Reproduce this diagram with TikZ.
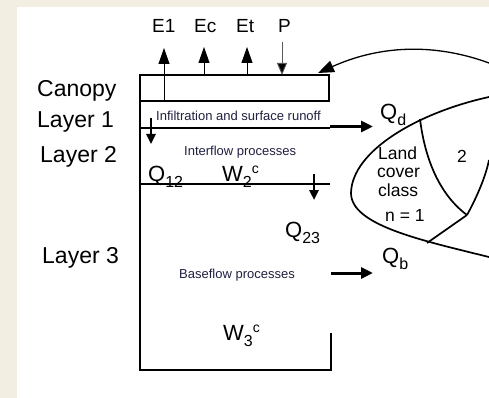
\documentclass[tikz,border=0pt]{standalone}
\usepackage{fontspec}
\setmainfont{Liberation Sans}
\usetikzlibrary{arrows.meta}
\definecolor{beige}{HTML}{F2EFE2}
\definecolor{smalltext}{HTML}{202040}
\newcommand\fs[1]{\fontsize{#1}{#1}\selectfont}
\newcommand\lsub[1]{\raisebox{-6pt}{\fs{16}#1}}
\newcommand\lsup[1]{\raisebox{8pt}{\fs{14}#1}}
\begin{document}
\begin{tikzpicture}[x=1pt,y=-1pt,
  lbl/.style={inner sep=0pt,anchor=base west},
  boxline/.style={line width=1.1pt,black},
  thinarrow/.style={line width=0.9pt,-{Triangle[length=16pt,width=11pt]}},
  thickarrow/.style={line width=3pt,-{Triangle[length=12pt,width=11pt]}},
  downarrow/.style={line width=2.4pt,-{Triangle[length=10pt,width=9pt]}},
  lens/.style={line width=1.7pt,black}]
\useasboundingbox (0,0) rectangle (489,398);
\fill[beige] (0,0) rectangle (489,398);
\fill[white] (17,7) rectangle (489,398);

% boxes
\draw[boxline] (140,75) rectangle (329,101);
\draw[boxline] (140,101) -- (140,370) -- (331,370) -- (331,333);
\draw[boxline] (140,128) -- (330,128);
\draw[boxline] (140,184) -- (330,184);

% coordinates
\coordinate (e1s) at (164,101); \coordinate (e1t) at (164,48);
\coordinate (ecs) at (204,75);  \coordinate (ect) at (204,47);
\coordinate (ets) at (247,75);  \coordinate (ett) at (247,47);
\coordinate (ps) at (282,42);   \coordinate (pt) at (282,75);
\coordinate (d1s) at (151,118); \coordinate (d1t) at (151,144);
\coordinate (d2s) at (314,174); \coordinate (d2t) at (314,200);
\coordinate (qds) at (330,126.5); \coordinate (qdt) at (373,126.5);
\coordinate (qbs) at (331,273); \coordinate (qbt) at (373,273);
\coordinate (cs) at (489,63); \coordinate (ct) at (318,73);

% top arrows
\draw[thinarrow] (e1s) -- (e1t);
\draw[thinarrow] (ecs) -- (ect);
\draw[thinarrow] (ets) -- (ett);
\draw[line width=0.9pt,gray!70!black,-{Triangle[length=12pt,width=10pt,fill=black]}] (ps) -- (pt);

\draw[downarrow] (d1s) -- (d1t);
\draw[downarrow] (d2s) -- (d2t);
\draw[thickarrow] (qds) -- (qdt);
\draw[thickarrow] (qbs) -- (qbt);

% outer curve to canopy
\draw[line width=1.3pt,-{Triangle[length=16pt,width=12pt]}] (cs) .. controls (440,45) and (385,43) .. (ct);

% lens
\draw[lens] (489,97) .. controls (420,112) and (352,150) .. (351,193)
  .. controls (351,225) and (420,240) .. (489,257);
\draw[lens] (420,119) .. controls (425,160) and (440,195) .. (467,215);
\draw[lens] (467,215) -- (427,243);
\draw[lens] (467,215) .. controls (478,195) and (486,175) .. (489,160);

% left labels
\node[lbl] (canopy) at (37,97) {\fs{23}Canopy};
\node[lbl] (l1) at (37,128) {\fs{23}Layer 1};
\node[lbl] (l2) at (40,162) {\fs{23}Layer 2};
\node[lbl] (l3) at (42,263) {\fs{23}Layer 3};

% top labels
\node[lbl] (E1) at (152,33) {\fs{19}E1};
\node[lbl] (Ec) at (194,33) {\fs{19}Ec};
\node[lbl] (Et) at (236,33) {\fs{19}Et};
\node[lbl] (P) at (278,33) {\fs{19}P};

% small process texts
\node[lbl,text=smalltext] (inf) at (156,121) {\fs{13}Infiltration and surface runoff};
\node[lbl,text=smalltext] (intf) at (184,155) {\fs{13}Interflow processes};
\node[lbl,text=smalltext] (basef) at (179,278) {\fs{13}Baseflow processes};

% quantities
\node[lbl] (Qd) at (380,120) {\fs{22}Q\lsub{d}};
\node[lbl] (Qb) at (382,263) {\fs{22}Q\lsub{b}};
\node[lbl] (Q12) at (148,181) {\fs{22}Q\lsub{12}};
\node[lbl] (W2) at (222,181) {\fs{22}W\lsub{2}\lsup{c}};
\node[lbl] (Q23) at (285,237) {\fs{22}Q\lsub{23}};
\node[lbl] (W3) at (223,340) {\fs{22}W\lsub{3}\lsup{c}};

% land cover
\node[lbl] (land) at (378,160) {\fs{17.5}Land};
\node[lbl] (cover) at (377,177) {\fs{17.5}cover};
\node[lbl] (class) at (378,196) {\fs{17.5}class};
\node[lbl] (n1) at (385,221) {\fs{17.5}n = 1};
\node[lbl] (two) at (457,162) {\fs{17.5}2};
\end{tikzpicture}
\end{document}
